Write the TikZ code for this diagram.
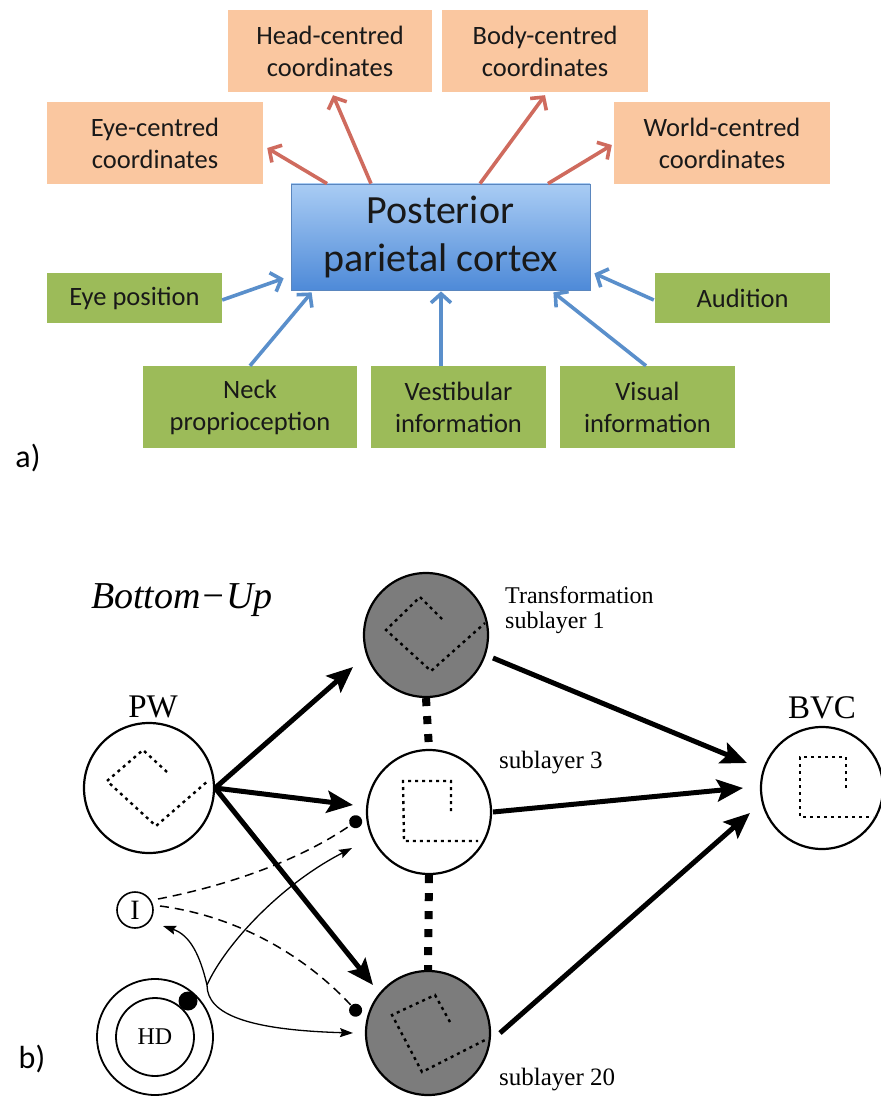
\documentclass[tikz,border=0pt]{standalone}
\usepackage{fontspec}
\setmainfont{Carlito}
\newfontfamily\tmsfont{Liberation Serif}
\usetikzlibrary{arrows.meta,calc}
\definecolor{boxpeach}{HTML}{FAC7A0}
\definecolor{boxgreen}{HTML}{9CBB59}
\definecolor{redarrow}{HTML}{CF6B5E}
\definecolor{bluearrow}{HTML}{5A8FCB}
\definecolor{ppctop}{HTML}{A9CCF4}
\definecolor{ppcbot}{HTML}{4E8AD8}
\definecolor{ppcline}{HTML}{5A86BE}
\definecolor{subgray}{HTML}{7C7C7C}
\begin{document}
\begin{tikzpicture}[x=1pt,y=-1pt,
  cbox/.style={rectangle, inner sep=0pt, align=center, font=\fontsize{26.5}{32}\selectfont, text=black!90},
  pbox/.style={cbox, fill=boxpeach},
  gbox/.style={cbox, fill=boxgreen},
  redarr/.style={draw=redarrow, line width=3.6pt, -{Straight Barb[length=9pt,width=20pt]}},
  bluearr/.style={draw=bluearrow, line width=3.6pt, -{Straight Barb[length=9pt,width=20pt]}},
  ring/.style={circle, draw, line width=2.2pt, inner sep=0pt},
  pat/.style={line width=2.4pt, dash pattern=on 3pt off 4pt},
  linkdots/.style={line width=8pt, dash pattern=on 8pt off 10pt},
  bigarr/.style={line width=5pt, -{Stealth[length=26pt,width=22pt,inset=5pt]}},
  thinarr/.style={line width=1.3pt, -{Stealth[length=13pt,width=9pt,inset=2pt]}},
  inhib/.style={line width=1.5pt, dash pattern=on 9pt off 6pt, -{Circle[length=13pt]}},
  lab/.style={font=\tmsfont\fontsize{25}{25}\selectfont, inner sep=0pt},
  panel/.style={font=\fontsize{32}{36}\selectfont, inner sep=0pt}
]
\useasboundingbox (0,0) rectangle (880,1099);

% ---------------- part a ----------------
\node[pbox, minimum width=204pt, minimum height=82pt] (head) at (330,51) {Head-centred\\coordinates};
\node[pbox, minimum width=206pt, minimum height=82pt] (body) at (545,51) {Body-centred\\coordinates};
\node[pbox, minimum width=216pt, minimum height=82pt] (eyec) at (155,143) {Eye-centred\\coordinates};
\node[pbox, minimum width=216pt, minimum height=82pt] (world) at (722,143) {World-centred\\coordinates};

\node[rectangle, draw=ppcline, line width=0.8pt, top color=ppctop, bottom color=ppcbot,
      minimum width=299pt, minimum height=106pt, inner sep=0pt, align=center,
      font=\fontsize{40}{48}\selectfont, text=black!90] (ppc) at (440.5,237) {Posterior\\parietal cortex};

\node[gbox, minimum width=175pt, minimum height=50pt] (eyepos) at (134.5,298) {Eye position};
\node[gbox, minimum width=175pt, minimum height=50pt] (aud) at (742.5,298) {Audition};
\node[gbox, minimum width=214pt, minimum height=82pt] (neck) at (250,407) {Neck\\proprioception};
\node[gbox, minimum width=175pt, minimum height=82pt] (vest) at (458.5,407) {Vestibular\\information};
\node[gbox, minimum width=175pt, minimum height=82pt] (vis) at (647.5,407) {Visual\\information};

\draw[redarr] ($(ppc.north)+(-113.5,0)$) -- ($(eyec.east)+(4,5)$);
\draw[redarr] ($(ppc.north)+(-69.5,0)$) -- ($(head.south)+(3,3)$);
\draw[redarr] ($(ppc.north)+(39.5,0)$) -- ($(body.south)+(0,3)$);
\draw[redarr] ($(ppc.north)+(107.5,0)$) -- ($(world.west)+(-2,2)$);

\draw[bluearr] ($(eyepos.east)+(0,2)$) -- ($(ppc.south west)+(-7,-12)$);
\draw[bluearr] (neck.north) -- ($(ppc.south west)+(21,2)$);
\draw[bluearr] ($(vest.north)+(-17.5,0)$) -- ($(ppc.south)+(0.5,1)$);
\draw[bluearr] ($(vis.north)+(-1.5,0)$) -- ($(ppc.south east)+(-37,2)$);
\draw[bluearr] ($(aud.west)+(-1,2)$) -- ($(ppc.south east)+(4,-17)$);

\node[panel] (pa) at (28,458) {a)};

% ---------------- part b ----------------
\node[panel] (pb) at (32,1059) {b)};

\node[font=\tmsfont\itshape\fontsize{38}{40}\selectfont, inner sep=0pt] (bu) at (182,600) {Bottom\char"2212 Up};

\node[ring, minimum size=130pt] (pw) at (149,788) {};
\node[ring, minimum size=124pt, fill=subgray] (sub1) at (426,635) {};
\node[ring, minimum size=124pt] (sub3) at (429,812) {};
\node[ring, minimum size=124pt, fill=subgray] (sub20) at (428,1033) {};
\node[ring, minimum size=122pt] (bvc) at (822,788) {};
\node[ring, minimum size=36pt, line width=1.6pt, font=\tmsfont\fontsize{28}{28}\selectfont] (inh) at (135,910) {I};
\node[ring, minimum size=116pt, line width=1.8pt] (hdout) at (155,1037) {};
\node[ring, minimum size=78pt, line width=1.8pt, font=\tmsfont\fontsize{24}{24}\selectfont] (hdin) at (155,1037) {HD};
\node[circle, fill=black, inner sep=0pt, minimum size=19pt] (knob) at (188,1001) {};

\node[lab] (pwl) at (153,707) {\fontsize{33}{33}\selectfont PW};
\node[lab] (bvcl) at (822,708) {\fontsize{33}{33}\selectfont BVC};
\node[lab, anchor=west, align=left, font=\tmsfont\fontsize{24}{24.5}\selectfont] (s1l) at (505,610) {Transformation\\sublayer 1};
\node[lab, anchor=west] (s3l) at (499,763) {sublayer 3};
\node[lab, anchor=west] (s20l) at (499,1080) {sublayer 20};

% inner dotted patterns
\begin{scope}[shift={(pw.center)}]
  \draw[pat] (18,-16) -- (-6,-38) -- (-42,-7) -- (7,38) -- (60,-8);
\end{scope}
\begin{scope}[shift={(sub1.center)}]
  \draw[pat] (16,-16) -- (-6,-38) -- (-40,-5) -- (5,36) -- (59,-12);
\end{scope}
\begin{scope}[shift={(sub3.center)}]
  \draw[pat] (22,-1) -- (22,-31) -- (-26,-31) -- (-25,29) -- (49,29);
\end{scope}
\begin{scope}[shift={(sub20.center)}]
  \draw[pat] (22,-11) -- (7,-38) -- (-36,-18) -- (-6,39) -- (59,6);
\end{scope}
\begin{scope}[shift={(bvc.center)}]
  \draw[pat] (24,0) -- (24,-31) -- (-22,-31) -- (-22,29) -- (51,29);
\end{scope}

% sublayer links
\draw[linkdots] (sub1.south) -- (sub3.north);
\draw[linkdots] (sub3.south) -- (sub20.north);

% thick arrows
\draw[bigarr] (pw.east) -- ($(sub1.center)+(-73,32)$);
\draw[bigarr] (pw.east) -- ($(sub3.center)+(-76,-7)$);
\draw[bigarr] (pw.east) -- ($(sub20.center)+(-55,-48)$);
\draw[bigarr] ($(sub1.center)+(67,23)$) -- ($(bvc.center)+(-75,-25)$);
\draw[bigarr] ($(sub3.center)+(64,0)$) -- ($(bvc.center)+(-79,0)$);
\draw[bigarr] ($(sub20.center)+(72,0)$) -- ($(bvc.center)+(-72,25)$);

% HD arrows
\coordinate (hj) at ($(hdout.center)+(52,-52)$);
\draw[thinarr] (hj) .. controls ($(hj)+(-7,-30)$) and ($(hj)+(-17,-50)$) .. ($(inh.center)+(28,16)$);
\draw[thinarr] (hj) .. controls ($(hj)+(18,-40)$) and ($(hj)+(73,-100)$) .. ($(sub3.center)+(-77,36)$);
\draw[thinarr] (hj) .. controls ($(hj)+(0,30)$) and ($(hj)+(43,45)$) .. ($(sub20.center)+(-75,0)$);

% inhibitory dashed connections
\draw[inhib] ($(inh.center)+(23,-11)$) .. controls ($(inh.center)+(95,-25)$) and ($(inh.center)+(165,-50)$) .. ($(sub3.center)+(-68,6)$);
\draw[inhib] ($(inh.center)+(25,-4)$) .. controls ($(inh.center)+(95,5)$) and ($(inh.center)+(165,40)$) .. ($(sub20.center)+(-68,-18)$);
\end{tikzpicture}
\end{document}
